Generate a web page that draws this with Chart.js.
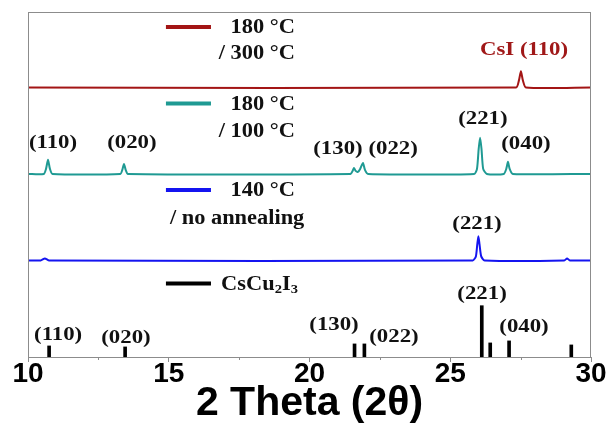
<!DOCTYPE html>
<html>
<head>
<meta charset="utf-8">
<script src="https://cdn.jsdelivr.net/npm/chart.js@4/dist/chart.umd.min.js"></script>
<style>
  html, body { margin: 0; padding: 0; background: #fff; }
  #wrap { width: 612px; height: 427px; }
</style>
</head>
<body>
<div id="wrap"><canvas id="c" width="612" height="427"></canvas></div>
<script>
// ---- Data (2θ in degrees, intensity in arbitrary units relative to each trace baseline) ----
const xTicks = [10, 15, 20, 25, 30];
const minorTicks = [12.5, 17.5, 22.5, 27.5];

// 180 °C / 300 °C
const redX = [10, 27.34, 27.44, 27.51, 27.58, 27.69, 30];
const redY = [0, 0, 7, 16, 7, 0, 0];
const redOffset = 268;

// 180 °C / 100 °C
const tealX = [10, 10.56, 10.64, 10.71, 10.78, 10.87, 13.28, 13.35, 13.41, 13.47, 13.55,
               21.46, 21.53, 21.58, 21.64, 21.72, 21.8, 21.9, 21.97, 22.08,
               25.85, 25.95, 26.01, 26.06, 26.11, 26.17, 26.3,
               26.9, 26.99, 27.05, 27.11, 27.22, 30];
const tealY = [0, 0, 5, 14, 5, 0, 0, 4, 10, 4, 0,
               0, 3, 6, 3, 2, 5, 11, 4, 0,
               0, 5, 25, 36, 25, 5, 0,
               0, 5, 12, 5, 0, 0];
const tealOffset = 182;

// 140 °C / no annealing
const blueX = [10, 10.45, 10.6, 10.75, 25.8, 25.91, 25.96, 26.0, 26.04, 26.1, 26.22, 29.05, 29.15, 29.25, 30];
const blueY = [0, 0, 2, 0, 0, 4, 16, 24, 16, 4, 0, 0, 2, 0, 0];
const blueOffset = 96;

// CsCu2I3 reference sticks
const stickX = [10.75, 13.45, 21.6, 21.95, 26.12, 26.42, 27.09, 29.3];
const stickY = [11, 10, 13, 13, 51, 14, 16, 12];

// Peak labels: [text, 2θ, intensity, colour]
const peakLabels = [
  ["CsI (110)", 27.62, 305, "#a01818"],
  ["(110)", 10.89, 213, "#111"],
  ["(020)", 13.69, 213, "#111"],
  ["(130)", 21.01, 207, "#111"],
  ["(022)", 22.97, 207, "#111"],
  ["(221)", 26.16, 237, "#111"],
  ["(040)", 27.69, 212, "#111"],
  ["(221)", 25.95, 132, "#111"],
  ["(221)", 26.13, 63, "#111"],
  ["(130)", 20.87, 32, "#111"],
  ["(022)", 23.0, 20, "#111"],
  ["(040)", 27.62, 30, "#111"],
  ["(110)", 11.07, 22, "#111"],
  ["(020)", 13.48, 19, "#111"]
];

// Legend entries: [line1, line2, colour, lineY, line2Y, line2Align]
const legendItems = [
  ["180 °C", "/ 300 °C", "#a31515", 328, 302, "right"],
  ["180 °C", "/ 100 °C", "#1f9a93", 252, 225, "right"],
  ["140 °C", "/ no annealing", "#1414f0", 166, 138, "left"]
];
const refLegendY = 73;

const colors = { red: "#a31515", teal: "#1f9a93", blue: "#1414f0", black: "#000" };

function build(xs, ys, off) { return xs.map((x, i) => ({ x: x, y: ys[i] + off })); }

const SERIF = '"Liberation Serif", "Times New Roman", serif';
function stretchText(ctx, t, x, y, sx, align) {
  ctx.save();
  ctx.translate(x, y);
  ctx.scale(sx, 1);
  ctx.textAlign = align;
  ctx.fillText(t, 0, 0);
  ctx.restore();
}

const annot = {
  id: 'annot',
  afterDatasetsDraw(chart) {
    const ctx = chart.ctx, xs = chart.scales.x, ys = chart.scales.y, a = chart.chartArea;
    ctx.save();
    // frame
    ctx.strokeStyle = '#8c8c8c'; ctx.lineWidth = 1;
    ctx.strokeRect(a.left + 0.5, a.top + 0.5, a.right - a.left - 1, a.bottom - a.top);
    // minor ticks
    minorTicks.forEach(v => {
      const px = Math.round(xs.getPixelForValue(v)) + 0.5;
      ctx.beginPath(); ctx.moveTo(px, a.bottom); ctx.lineTo(px, a.bottom + 3); ctx.stroke();
    });
    // peak labels
    ctx.textBaseline = 'middle';
    ctx.font = 'bold 19px ' + SERIF;
    peakLabels.forEach(([t, x, y, c]) => {
      ctx.fillStyle = c;
      stretchText(ctx, t, xs.getPixelForValue(x), ys.getPixelForValue(y), 1.2, 'center');
    });
    // legend
    const lx1 = xs.getPixelForValue(14.9), lx2 = xs.getPixelForValue(16.5), tx = xs.getPixelForValue(19.48);
    ctx.font = 'bold 20px ' + SERIF;
    ctx.fillStyle = '#111';
    legendItems.forEach(([l1, l2, c, y1, y2, al]) => {
      const py = ys.getPixelForValue(y1);
      ctx.strokeStyle = c; ctx.lineWidth = 4;
      ctx.beginPath(); ctx.moveTo(lx1, py); ctx.lineTo(lx2, py); ctx.stroke();
      stretchText(ctx, l1, tx, py + 1, 1.12, 'right');
      if (al === 'left') {
        stretchText(ctx, l2, xs.getPixelForValue(15.04), ys.getPixelForValue(y2) + 1, 1.12, 'left');
      } else {
        stretchText(ctx, l2, tx, ys.getPixelForValue(y2) + 1, 1.12, 'right');
      }
    });
    // CsCu2I3 legend
    const py = ys.getPixelForValue(refLegendY);
    ctx.strokeStyle = '#000'; ctx.lineWidth = 4;
    ctx.beginPath(); ctx.moveTo(lx1, py); ctx.lineTo(lx2, py); ctx.stroke();
    let x = xs.getPixelForValue(16.86);
    const big = 'bold 20px ' + SERIF;
    const small = 'bold 13px ' + SERIF;
    [["CsCu", big, 0], ["2", small, 5], ["I", big, 0], ["3", small, 5]].forEach(([t, f, dy]) => {
      ctx.font = f;
      stretchText(ctx, t, x, py + 1 + dy, 1.12, 'left');
      x += ctx.measureText(t).width * 1.12;
    });
    ctx.restore();
  }
};

new Chart(document.getElementById('c'), {
  type: 'scatter',
  data: {
    datasets: [
      { type: 'line', data: build(redX, redY, redOffset), borderColor: colors.red, borderWidth: 2, pointRadius: 0, tension: 0.2 },
      { type: 'line', data: build(tealX, tealY, tealOffset), borderColor: colors.teal, borderWidth: 2, pointRadius: 0, tension: 0.2 },
      { type: 'line', data: build(blueX, blueY, blueOffset), borderColor: colors.blue, borderWidth: 2, pointRadius: 0, tension: 0.2 },
      { type: 'bar', data: stickX.map((x, i) => ({ x: x, y: stickY[i] })), backgroundColor: '#000', barThickness: 3, grouped: false }
    ]
  },
  options: {
    responsive: false,
    animation: false,
    layout: { padding: { left: 28, right: 21, top: 12, bottom: 0 } },
    plugins: { legend: { display: false }, tooltip: { enabled: false } },
    scales: {
      x: {
        type: 'linear', min: 10, max: 30, offset: false,
        afterBuildTicks: s => { s.ticks = xTicks.map(v => ({ value: v })); },
        ticks: { color: '#000', font: { family: '"Liberation Sans", Arial, sans-serif', weight: 'bold', size: 28, lineHeight: 1 }, padding: -2, maxRotation: 0 },
        grid: { drawOnChartArea: false, tickLength: 5, color: '#8c8c8c', offset: false },
        border: { color: '#8c8c8c' },
        title: { display: true, text: '2 Theta (2θ)', color: '#000', font: { family: '"Liberation Sans", Arial, sans-serif', weight: 'bold', size: 41, lineHeight: 1 }, padding: { top: -3, bottom: 3 } }
      },
      y: { display: false, min: 0, max: 343 }
    }
  },
  plugins: [annot]
});
</script>
</body>
</html>
